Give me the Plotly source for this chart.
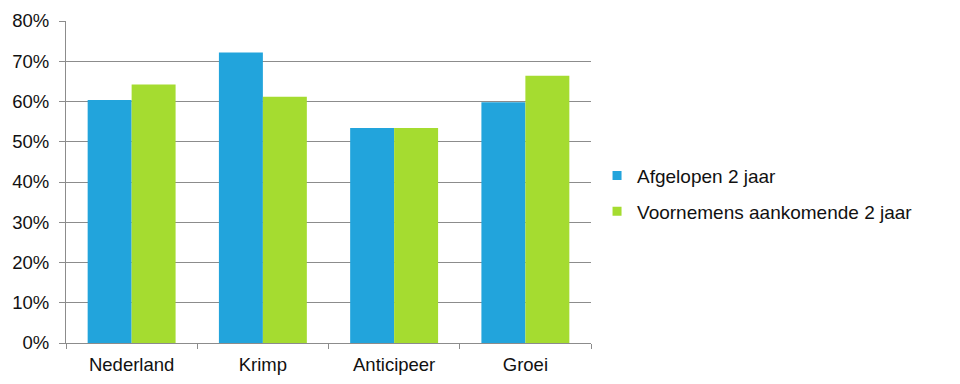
import plotly.graph_objects as go

categories = ["Nederland", "Krimp", "Anticipeer", "Groei"]
afgelopen = [0.604, 0.722, 0.534, 0.598]
voornemens = [0.642, 0.612, 0.534, 0.664]
series_names = ["Afgelopen 2 jaar", "Voornemens aankomende 2 jaar"]
series_colors = ["#22a4dc", "#a5dc30"]
tick_vals = [0, 0.1, 0.2, 0.3, 0.4, 0.5, 0.6, 0.7, 0.8]

fig = go.Figure()
for vals, name, col, grp in [(afgelopen, series_names[0], series_colors[0], "a"),
                             (voornemens, series_names[1], series_colors[1], "b")]:
    fig.add_trace(go.Bar(x=categories, y=vals, name=name,
                         marker=dict(color=col, line=dict(width=0)),
                         legendgroup=grp, showlegend=False))
for name, col, grp in [(series_names[0], series_colors[0], "a"),
                       (series_names[1], series_colors[1], "b")]:
    fig.add_trace(go.Scatter(x=[None], y=[None], mode="markers", name=name,
                             marker=dict(symbol="square", size=9, color=col),
                             legendgroup=grp, showlegend=True))

fig.update_layout(
    width=960, height=384,
    margin=dict(l=58, r=377, t=13, b=48.5, autoexpand=False),
    paper_bgcolor="white", plot_bgcolor="white",
    font=dict(family="Liberation Sans, Arial", size=18.5, color="#111111"),
    barmode="group", bargap=0.33, bargroupgap=0,
    legend=dict(x=1.0115, y=0.464, xanchor="left", yanchor="middle",
                traceorder="grouped", tracegroupgap=8, itemwidth=30,
                font=dict(size=19, color="#111111"),
                bgcolor="rgba(0,0,0,0)"),
    showlegend=True,
)
fig.update_yaxes(range=[0, 0.8], tickvals=tick_vals, tickformat=".0%",
                 showgrid=True, gridcolor="#8c8c8c", gridwidth=1,
                 showline=True, linecolor="#8c8c8c", linewidth=1,
                 ticks="outside", ticklen=6, tickcolor="#8c8c8c",
                 ticklabelstandoff=6,
                 zeroline=False, automargin=False)
fig.update_xaxes(showgrid=False, showline=True, linecolor="#8c8c8c", linewidth=1,
                 ticks="outside", ticklen=5, tickcolor="#8c8c8c",
                 ticklabelstandoff=5,
                 tickson="boundaries", automargin=False)

fig.write_html("out.html")
